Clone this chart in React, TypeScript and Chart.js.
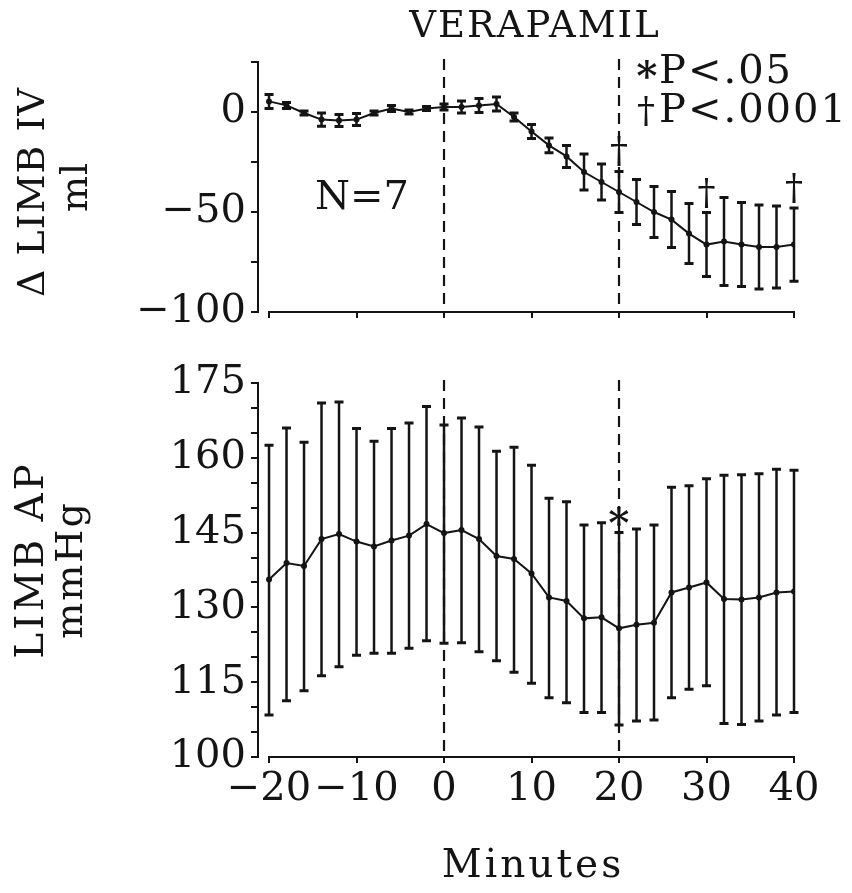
import React, { useEffect, useRef } from 'react';
import { Chart, registerables } from 'chart.js';

Chart.register(...registerables);

const MINUTES = [-20, -18, -16, -14, -12, -10, -8, -6, -4, -2, 0, 2, 4, 6, 8, 10, 12, 14, 16, 18, 20, 22, 24, 26, 28, 30, 32, 34, 36, 38, 40];

const IV_MEAN = [5.3, 3.3, -0.5, -3.8, -4.2, -3.8, -0.5, 1.7, 0, 1.7, 2.5, 2.5, 3.3, 4.0, -2.5, -9.7, -16.7, -22.2, -30, -35, -40, -45, -50, -53.8, -60.8, -66.3, -64.7, -66.3, -67.5, -67.5, -66.3];
const IV_ERR = [3.5, 1.5, 1, 3.3, 3, 3, 1, 1.5, 1, 1, 1.5, 3, 3.5, 3.5, 2, 3.5, 3.7, 5.5, 9, 9, 10.3, 11.3, 12.7, 14, 15, 16, 22, 21, 21, 20.5, 18.3];

const AP_MEAN = [135.6, 138.9, 138.3, 143.7, 144.7, 143.2, 142.2, 143.4, 144.4, 146.7, 144.9, 145.5, 143.7, 140.3, 139.7, 136.8, 132.0, 131.3, 127.8, 128.0, 125.8, 126.5, 126.9, 133.0, 134.0, 135.0, 131.7, 131.6, 132.0, 133.0, 133.2];
const AP_HIGH = [162.5, 166.0, 163.1, 171.0, 171.2, 165.9, 163.3, 165.9, 167.0, 170.3, 166.6, 168.0, 166.2, 161.3, 162.1, 158.5, 151.9, 151.2, 146.5, 147.0, 145.0, 145.7, 146.5, 154.1, 154.4, 155.8, 156.5, 156.6, 156.8, 157.7, 157.5];
const AP_LOW = [108.4, 111.3, 113.3, 116.3, 118.1, 120.4, 120.8, 120.8, 121.8, 123.3, 122.8, 122.9, 121.1, 119.3, 117.0, 114.8, 111.9, 110.9, 108.9, 108.9, 106.4, 107.2, 107.4, 111.9, 113.6, 114.3, 106.7, 106.5, 107.2, 108.4, 108.9];

const X_TICKS = [-20, -10, 0, 10, 20, 30, 40];
const IV_TICKS = [-100, -75, -50, -25, 0, 25];
const IV_LABELS = [-100, -50, 0];
const AP_TICKS = [100, 105, 110, 115, 120, 125, 130, 135, 140, 145, 150, 155, 160, 165, 170, 175];
const AP_LABELS = [100, 115, 130, 145, 160, 175];
const MARKER_LINES = [0, 20];
const IV_SIG_MINUTES = [20, 30, 40];
const AP_SIG_MINUTES = [20];

const FONT = '"DejaVu Serif", "Liberation Serif", serif';
const INK = '#141414';
const W = 852;
const H = 893;

const fmt = (v: number) => (v < 0 ? '\u2212' + Math.abs(v) : String(v));

function text(ctx: CanvasRenderingContext2D, s: string, x: number, y: number, size: number, align: CanvasTextAlign = 'left', spacing = 0, rotate = false, baseline: CanvasTextBaseline = 'alphabetic', weight = 'normal') {
  ctx.save();
  ctx.font = `${weight} ${size}px ${FONT}`;
  ctx.fillStyle = INK;
  (ctx as any).letterSpacing = `${spacing}px`;
  ctx.textAlign = align;
  ctx.textBaseline = baseline;
  if (rotate) {
    ctx.translate(x, y);
    ctx.rotate(-Math.PI / 2);
    ctx.fillText(s, 0, 0);
  } else {
    ctx.fillText(s, x, y);
  }
  ctx.restore();
}

function errorBars(chart: any, lo: number[], hi: number[]) {
  const ctx = chart.ctx as CanvasRenderingContext2D;
  const xs = chart.scales.x;
  const ys = chart.scales.y;
  ctx.save();
  ctx.strokeStyle = INK;
  ctx.lineCap = 'butt';
  MINUTES.forEach((m, i) => {
    const x = xs.getPixelForValue(m);
    const y1 = ys.getPixelForValue(lo[i]);
    const y2 = ys.getPixelForValue(hi[i]);
    ctx.lineWidth = 2.5;
    ctx.beginPath();
    ctx.moveTo(x, y1);
    ctx.lineTo(x, y2);
    ctx.stroke();
    ctx.lineWidth = 3;
    ctx.beginPath();
    ctx.moveTo(x - 4.5, y1);
    ctx.lineTo(x + 4.5, y1);
    ctx.moveTo(x - 4.5, y2);
    ctx.lineTo(x + 4.5, y2);
    ctx.stroke();
  });
  ctx.restore();
}

function axisDecor(chart: any) {
  const ctx = chart.ctx as CanvasRenderingContext2D;
  const xs = chart.scales.x;
  const area = chart.chartArea;
  ctx.save();
  ctx.strokeStyle = INK;
  ctx.lineWidth = 2;
  ctx.beginPath();
  ctx.moveTo(xs.getPixelForValue(X_TICKS[0]) - 1, area.bottom);
  ctx.lineTo(xs.getPixelForValue(X_TICKS[X_TICKS.length - 1]) + 1, area.bottom);
  ctx.stroke();
  ctx.lineWidth = 2.2;
  ctx.setLineDash([11, 7]);
  MARKER_LINES.forEach((m) => {
    const x = xs.getPixelForValue(m);
    ctx.beginPath();
    ctx.moveTo(x, area.top - 3);
    ctx.lineTo(x, area.bottom);
    ctx.stroke();
  });
  ctx.restore();
}

const topPlugin = {
  id: 'topDecor',
  beforeDatasetsDraw(chart: any) {
    axisDecor(chart);
    errorBars(chart, IV_MEAN.map((v, i) => v - IV_ERR[i]), IV_MEAN.map((v, i) => v + IV_ERR[i]));
  },
  afterDraw(chart: any) {
    const ctx = chart.ctx as CanvasRenderingContext2D;
    const xs = chart.scales.x;
    const ys = chart.scales.y;
    text(ctx, 'VERAPAMIL', 535, 37, 37, 'center', 2);
    text(ctx, '\u2217', 647, 72, 40, 'center', 0, false, 'middle', 'bold');
    text(ctx, 'P<.05', 659, 83, 40, 'left', 2);
    text(ctx, '\u2020', 646, 122, 36, 'center', 0);
    text(ctx, 'P<.0001', 659, 122, 40, 'left', 2);
    text(ctx, 'N=7', 315, 209, 40, 'left', 0);
    text(ctx, '\u0394 LIMB IV', 44, 192, 38, 'center', 1, true);
    text(ctx, 'ml', 87, 187, 38, 'center', 1, true);
    IV_SIG_MINUTES.forEach((m) => {
      const i = MINUTES.indexOf(m);
      const top = ys.getPixelForValue(IV_MEAN[i] + IV_ERR[i]);
      text(ctx, '\u2020', xs.getPixelForValue(m), top - 9, 36, 'center', 0);
    });
  },
};

const bottomPlugin = {
  id: 'bottomDecor',
  beforeDatasetsDraw(chart: any) {
    axisDecor(chart);
    errorBars(chart, AP_LOW, AP_HIGH);
  },
  afterDraw(chart: any) {
    const ctx = chart.ctx as CanvasRenderingContext2D;
    const xs = chart.scales.x;
    const ys = chart.scales.y;
    text(ctx, 'LIMB AP', 43, 560, 39, 'center', 3, true);
    text(ctx, 'mmHg', 82, 570, 38, 'center', 2, true);
    text(ctx, 'Minutes', 533, 877, 39, 'center', 3);
    AP_SIG_MINUTES.forEach((m) => {
      const i = MINUTES.indexOf(m);
      const top = ys.getPixelForValue(AP_HIGH[i]);
      text(ctx, '\u2217', xs.getPixelForValue(m), top - 14, 40, 'center', 0, false, 'middle', 'bold');
    });
  },
};

function makeConfig(opts: {
  mean: number[];
  yMin: number;
  yMax: number;
  yTicks: number[];
  yLabels: number[];
  top: number;
  bottom: number;
  showX: boolean;
  plugin: any;
}) {
  const X_MIN = -21.26;
  const X_MAX = 40;
  return {
    type: 'line' as const,
    data: {
      datasets: [
        {
          data: MINUTES.map((m, i) => ({ x: m, y: opts.mean[i] })),
          borderColor: INK,
          borderWidth: 2,
          pointRadius: 3,
          pointBackgroundColor: INK,
          pointBorderWidth: 0,
          tension: 0,
          fill: false,
        },
      ],
    },
    options: {
      animation: false as const,
      responsive: false,
      maintainAspectRatio: false,
      events: [],
      layout: { padding: { top: opts.top, right: W - 794, left: 0, bottom: 0 } },
      plugins: { legend: { display: false }, tooltip: { enabled: false }, title: { display: false } },
      scales: {
        x: {
          type: 'linear' as const,
          min: X_MIN,
          max: X_MAX,
          afterBuildTicks: (s: any) => {
            s.ticks = X_TICKS.map((v) => ({ value: v }));
          },
          afterFit: (s: any) => {
            s.height = H - opts.bottom;
          },
          grid: { drawOnChartArea: false, drawTicks: true, tickLength: 6, color: INK, lineWidth: 2 },
          border: { display: false },
          ticks: {
            display: opts.showX,
            autoSkip: false,
            maxRotation: 0,
            minRotation: 0,
            padding: 3,
            color: INK,
            font: { family: FONT, size: 40 },
            callback: (v: any) => fmt(Number(v)),
          },
        },
        y: {
          type: 'linear' as const,
          min: opts.yMin,
          max: opts.yMax,
          afterBuildTicks: (s: any) => {
            s.ticks = opts.yTicks.map((v) => ({ value: v }));
          },
          afterFit: (s: any) => {
            s.width = 258;
          },
          grid: { drawOnChartArea: false, drawTicks: true, tickLength: 7, color: INK, lineWidth: 2 },
          border: { display: true, color: INK, width: 2 },
          ticks: {
            autoSkip: false,
            padding: 5,
            color: INK,
            font: { family: FONT, size: 40 },
            callback: (v: any) => (opts.yLabels.includes(Number(v)) ? fmt(Number(v)) : ''),
          },
        },
      },
    },
    plugins: [opts.plugin],
  };
}

export default function App() {
  const topRef = useRef<HTMLCanvasElement | null>(null);
  const botRef = useRef<HTMLCanvasElement | null>(null);

  useEffect(() => {
    if (!topRef.current || !botRef.current) return;
    const c1 = new Chart(
      topRef.current,
      makeConfig({ mean: IV_MEAN, yMin: -100, yMax: 25, yTicks: IV_TICKS, yLabels: IV_LABELS, top: 62, bottom: 312, showX: false, plugin: topPlugin }) as any
    );
    const c2 = new Chart(
      botRef.current,
      makeConfig({ mean: AP_MEAN, yMin: 100, yMax: 175, yTicks: AP_TICKS, yLabels: AP_LABELS, top: 383, bottom: 757, showX: true, plugin: bottomPlugin }) as any
    );
    return () => {
      c1.destroy();
      c2.destroy();
    };
  }, []);

  const canvasStyle: React.CSSProperties = { position: 'absolute', left: 0, top: 0, width: W, height: H };
  return (
    <div style={{ position: 'fixed', left: 0, top: 0, width: W, height: H, background: '#fff' }}>
      <canvas ref={topRef} width={W} height={H} style={canvasStyle} />
      <canvas ref={botRef} width={W} height={H} style={canvasStyle} />
    </div>
  );
}
